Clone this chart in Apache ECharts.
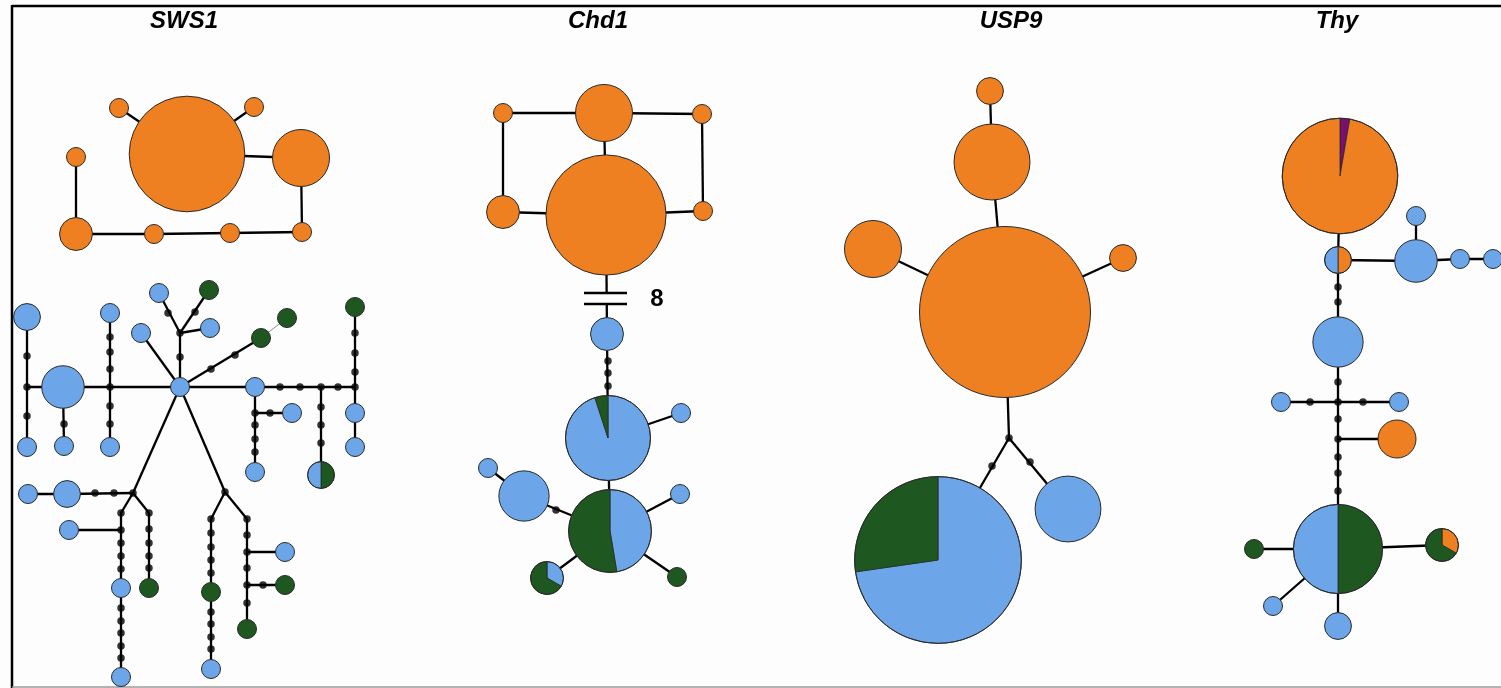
<!DOCTYPE html>
<html>
<head>
<meta charset="utf-8">
<script src="https://cdn.jsdelivr.net/npm/echarts@6/dist/echarts.min.js"></script>
<style>
  html, body { margin: 0; padding: 0; background: #fdfdfd; }
  #main { width: 1501px; height: 688px; }
</style>
</head>
<body>
<div id="main"></div>
<script>
// panel titles
const panelTitles = ['SWS1', 'Chd1', 'USP9', 'Thy'];
const titleX = [184, 598, 1011, 1337];

// haplotypes: id, x, y, blue, green, orange, purple (sample counts)
const sws1Haps = [
  ['S1', 187, 154, 0, 0, 37, 0], ['S2', 301, 158, 0, 0, 9, 0],
  ['S3', 119, 108, 0, 0, 1, 0], ['S4', 254, 107, 0, 0, 1, 0],
  ['S5', 76, 157, 0, 0, 1, 0], ['S6', 76, 234, 0, 0, 3, 0],
  ['S7', 154, 234, 0, 0, 1, 0], ['S8', 230, 233, 0, 0, 1, 0],
  ['S9', 302, 232, 0, 0, 1, 0],
  ['H', 180, 387, 1, 0, 0, 0], ['B1', 63, 387, 5, 0, 0, 0],
  ['B2', 27, 317, 2, 0, 0, 0], ['B3', 27, 447, 1, 0, 0, 0],
  ['B4', 64, 446, 1, 0, 0, 0], ['B5', 110, 313, 1, 0, 0, 0],
  ['B6', 110, 447, 1, 0, 0, 0], ['B7', 141, 333, 1, 0, 0, 0],
  ['B8', 159, 293, 1, 0, 0, 0], ['G1', 209, 290, 0, 1, 0, 0],
  ['B9', 210, 328, 1, 0, 0, 0], ['G2', 261, 338, 0, 1, 0, 0],
  ['G3', 287, 318, 0, 1, 0, 0], ['B10', 255, 387, 1, 0, 0, 0],
  ['B11', 292, 413, 1, 0, 0, 0], ['B12', 255, 472, 1, 0, 0, 0],
  ['M1', 321, 475, 1, 1, 0, 0], ['G4', 355, 307, 0, 1, 0, 0],
  ['B13', 355, 413, 1, 0, 0, 0], ['B14', 355, 447, 1, 0, 0, 0],
  ['B15', 67, 494, 2, 0, 0, 0], ['B16', 28, 494, 1, 0, 0, 0],
  ['B17', 69, 530, 1, 0, 0, 0], ['B18', 121, 588, 1, 0, 0, 0],
  ['B19', 121, 677, 1, 0, 0, 0], ['G5', 149, 588, 0, 1, 0, 0],
  ['G6', 211, 592, 0, 1, 0, 0], ['B20', 211, 669, 1, 0, 0, 0],
  ['B21', 285, 552, 1, 0, 0, 0], ['G7', 285, 585, 0, 1, 0, 0],
  ['G8', 247, 629, 0, 1, 0, 0]
];
// median vectors / bends
const sws1Verts = [
  ['v1', 27, 387], ['v2', 110, 387], ['v3', 180, 333], ['v4', 321, 387],
  ['v5', 355, 387], ['v6', 255, 413], ['v7', 133, 493], ['v8', 121, 530],
  ['v9', 225, 492], ['v10', 247, 552], ['v11', 247, 585], ['v12', 121, 513],
  ['v13', 149, 513], ['v14', 211, 519], ['v15', 247, 519]
];
// mutation steps
const sws1Dots = [
  [27, 356], [27, 416], [64, 424],
  [110, 337], [110, 352], [110, 369], [110, 406], [110, 424],
  [180, 357], [168, 313], [195, 312], [211, 369], [235, 355],
  [280, 387], [300, 387], [338, 387],
  [270, 413], [255, 425], [255, 439], [255, 452],
  [321, 407], [321, 425], [321, 443],
  [355, 372], [355, 353], [355, 333],
  [114, 493], [95, 493],
  [121, 543], [121, 556], [121, 569], [121, 608], [121, 621], [121, 633], [121, 646], [121, 658],
  [149, 529], [149, 543], [149, 556], [149, 568],
  [211, 533], [211, 547], [211, 560], [211, 573], [211, 612], [211, 624], [211, 637], [211, 649],
  [247, 535], [247, 568], [263, 585], [247, 603]
];
const sws1Links = [
  ['S1', 'S3'], ['S1', 'S4'], ['S1', 'S2'], ['S2', 'S9'], ['S9', 'S8'], ['S8', 'S7'], ['S7', 'S6'], ['S6', 'S5'],
  ['B2', 'v1'], ['v1', 'B3'], ['v1', 'B1'], ['B1', 'B4'], ['B1', 'v2'], ['v2', 'B5'], ['v2', 'B6'], ['v2', 'H'],
  ['H', 'B7'], ['H', 'v3'], ['v3', 'B8'], ['v3', 'G1'], ['v3', 'B9'], ['H', 'G2'], ['G2', 'G3', 'thin'],
  ['H', 'B10'], ['B10', 'v4'], ['v4', 'v5'], ['v4', 'M1'], ['v5', 'G4'], ['v5', 'B13'], ['B13', 'B14'],
  ['B10', 'v6'], ['v6', 'B11'], ['v6', 'B12'],
  ['H', 'v7'], ['v7', 'B15'], ['B15', 'B16'], ['v7', 'v12'], ['v12', 'v8'], ['v8', 'B17'], ['v8', 'B18'], ['B18', 'B19'],
  ['v7', 'v13'], ['v13', 'G5'],
  ['H', 'v9'], ['v9', 'v14'], ['v14', 'G6'], ['G6', 'B20'], ['v9', 'v15'], ['v15', 'v10'], ['v10', 'B21'],
  ['v10', 'v11'], ['v11', 'G7'], ['v11', 'G8']
];
const sws1Order = ['green', 'blue', 'orange', 'purple'];

const chd1Haps = [
  ['C1', 604, 113, 0, 0, 9, 0], ['C2', 606, 215, 0, 0, 40, 0],
  ['C3', 503, 113, 0, 0, 1, 0], ['C4', 702, 114, 0, 0, 1, 0],
  ['C5', 503, 212, 0, 0, 3, 0], ['C6', 703, 211, 0, 0, 1, 0],
  ['C7', 607, 334, 3, 0, 0, 0], ['C8', 608, 438, 19, 1, 0, 0],
  ['C9', 681, 413, 1, 0, 0, 0], ['C10', 610, 531, 9, 10, 0, 0],
  ['C11', 524, 496, 7, 0, 0, 0], ['C12', 488, 468, 1, 0, 0, 0],
  ['C13', 680, 494, 1, 0, 0, 0], ['C14', 677, 577, 0, 1, 0, 0],
  ['C15', 547, 578, 1, 2, 0, 0]
];
const chd1Verts = [];
const chd1Dots = [[608, 361], [608, 373], [608, 386], [556, 510]];
const chd1Links = [
  ['C3', 'C1'], ['C1', 'C4'], ['C3', 'C5'], ['C4', 'C6'], ['C5', 'C2'], ['C2', 'C6'], ['C1', 'C2'],
  ['C2', 'C7'], ['C7', 'C8'], ['C8', 'C9'], ['C8', 'C10'], ['C10', 'C11'], ['C11', 'C12'],
  ['C10', 'C13'], ['C10', 'C14'], ['C10', 'C15']
];
const chd1Order = ['blue', 'green', 'orange', 'purple'];
// broken edge: x, y, number of steps
const chd1Break = [[606, 298.5, '8']];

const usp9Haps = [
  ['U1', 990, 91, 0, 0, 2, 0], ['U2', 992, 162, 0, 0, 16, 0],
  ['U3', 873, 249, 0, 0, 9, 0], ['U4', 1123, 258, 0, 0, 2, 0],
  ['U5', 1005, 312, 0, 0, 81, 0], ['U6', 938, 560, 56, 21, 0, 0],
  ['U7', 1068, 509, 12, 0, 0, 0]
];
const usp9Verts = [['u1', 1009, 438]];
const usp9Dots = [[992, 466], [1030, 462]];
const usp9Links = [
  ['U1', 'U2'], ['U2', 'U5'], ['U3', 'U5'], ['U5', 'U4'], ['U5', 'u1'], ['u1', 'U6'], ['u1', 'U7']
];
const usp9Order = ['blue', 'green', 'orange', 'purple'];

const thyHaps = [
  ['T1', 1340, 176, 0, 0, 36, 1], ['T2', 1338, 260, 1, 0, 1, 0],
  ['T3', 1416, 261, 5, 0, 0, 0], ['T4', 1416, 216, 1, 0, 0, 0],
  ['T5', 1460, 259, 1, 0, 0, 0], ['T6', 1493, 259, 1, 0, 0, 0],
  ['T7', 1338, 342, 7, 0, 0, 0], ['T8', 1281, 402, 1, 0, 0, 0],
  ['T9', 1399, 402, 1, 0, 0, 0], ['T10', 1397, 439, 0, 0, 4, 0],
  ['T11', 1338, 549, 11, 11, 0, 0], ['T12', 1254, 549, 0, 1, 0, 0],
  ['T13', 1442, 545, 0, 2, 1, 0], ['T14', 1273, 606, 1, 0, 0, 0],
  ['T15', 1338, 626, 2, 0, 0, 0]
];
const thyVerts = [['t1', 1338, 402], ['t2', 1338, 439]];
const thyDots = [
  [1338, 287], [1338, 302], [1338, 382], [1310, 402], [1363, 402],
  [1338, 419], [1338, 457], [1338, 473], [1338, 491]
];
const thyLinks = [
  ['T1', 'T2'], ['T2', 'T3'], ['T3', 'T4'], ['T3', 'T5'], ['T5', 'T6'], ['T2', 'T7'], ['T7', 't1'],
  ['t1', 'T8'], ['t1', 'T9'], ['t1', 't2'], ['t2', 'T10'], ['t2', 'T11'],
  ['T11', 'T12'], ['T11', 'T13'], ['T11', 'T14'], ['T11', 'T15']
];
const thyOrder = ['purple', 'orange', 'green', 'blue'];

const colorOf = { blue: '#6ca6e8', green: '#1e5720', orange: '#ee8022', purple: '#7b0e6f' };
const baseR = 9.5; // radius of a single-sample haplotype

const panels = [
  { haps: sws1Haps, verts: sws1Verts, dots: sws1Dots, links: sws1Links, order: sws1Order },
  { haps: chd1Haps, verts: chd1Verts, dots: chd1Dots, links: chd1Links, order: chd1Order },
  { haps: usp9Haps, verts: usp9Verts, dots: usp9Dots, links: usp9Links, order: usp9Order },
  { haps: thyHaps, verts: thyVerts, dots: thyDots, links: thyLinks, order: thyOrder }
];

const hapParts = [], hapData = [], dotData = [], linkData = [];
panels.forEach(p => {
  const pos = {};
  p.haps.forEach(h => {
    pos[h[0]] = [h[1], h[2]];
    const counts = { blue: h[3], green: h[4], orange: h[5], purple: h[6] };
    hapParts.push(p.order.filter(k => counts[k] > 0).map(k => [k, counts[k]]));
    hapData.push([h[1], h[2]]);
  });
  p.verts.forEach(v => {
    pos[v[0]] = [v[1], v[2]];
    dotData.push([v[1], v[2]]);
  });
  p.dots.forEach(d => dotData.push(d));
  p.links.forEach(l => {
    const item = { coords: [pos[l[0]], pos[l[1]]] };
    if (l[2] === 'thin') item.lineStyle = { color: '#8a8a8a', width: 1 };
    linkData.push(item);
  });
});

function renderHap(params, api) {
  const parts = hapParts[params.dataIndex];
  const c = api.coord([api.value(0), api.value(1)]);
  const total = parts.reduce((s, p) => s + p[1], 0);
  const r = baseR * Math.sqrt(total);
  const edge = { stroke: '#2a2a2a', lineWidth: 1 };
  if (parts.length === 1) {
    return { type: 'circle', shape: { cx: c[0], cy: c[1], r: r },
      style: Object.assign({ fill: colorOf[parts[0][0]] }, edge) };
  }
  const children = [];
  let acc = 0;
  parts.forEach(p => {
    const a0 = -Math.PI / 2 + acc / total * Math.PI * 2;
    acc += p[1];
    const a1 = -Math.PI / 2 + acc / total * Math.PI * 2;
    children.push({ type: 'sector',
      shape: { cx: c[0], cy: c[1], r0: 0, r: r, startAngle: a0, endAngle: a1, clockwise: true },
      style: { fill: colorOf[p[0]], stroke: '#2a2a2a', lineWidth: 0.8 } });
  });
  children.push({ type: 'circle', shape: { cx: c[0], cy: c[1], r: r },
    style: Object.assign({ fill: 'none' }, edge) });
  return { type: 'group', children: children };
}

function renderBreak(params, api) {
  const c = api.coord([api.value(0), api.value(1)]);
  const label = chd1Break[params.dataIndex][2];
  return { type: 'group', children: [
    { type: 'rect', shape: { x: c[0] - 4, y: c[1] - 5, width: 8, height: 10 }, style: { fill: '#fdfdfd' } },
    { type: 'line', shape: { x1: c[0] - 22, y1: c[1] - 5.5, x2: c[0] + 21, y2: c[1] - 5.5 }, style: { stroke: '#000', lineWidth: 2.6 } },
    { type: 'line', shape: { x1: c[0] - 22, y1: c[1] + 5.5, x2: c[0] + 21, y2: c[1] + 5.5 }, style: { stroke: '#000', lineWidth: 2.6 } },
    { type: 'text', x: c[0] + 51, y: c[1] + 1,
      style: { text: label, fill: '#000', font: 'bold 24px "Liberation Sans", Arial, sans-serif',
        align: 'center', verticalAlign: 'middle' } }
  ] };
}

const myChart = echarts.init(document.getElementById('main'));
const options = {
  backgroundColor: '#fdfdfd',
  animation: false,
  grid: { left: 0, right: 0, top: 0, bottom: 0 },
  xAxis: { type: 'value', min: 0, max: 1501, show: false },
  yAxis: { type: 'value', min: 0, max: 688, inverse: true, show: false },
  graphic: [
    { type: 'line', shape: { x1: 12, y1: 6, x2: 1501, y2: 6 }, style: { stroke: '#000', lineWidth: 2.5 } },
    { type: 'line', shape: { x1: 12, y1: 5, x2: 12, y2: 688 }, style: { stroke: '#000', lineWidth: 2.5 } },
    { type: 'line', shape: { x1: 12, y1: 687, x2: 1501, y2: 687 }, style: { stroke: '#9a9a9a', lineWidth: 1.5 } }
  ].concat(panelTitles.map((t, i) => ({
    type: 'text', x: titleX[i], y: 21,
    style: { text: t, fill: '#000', font: 'italic bold 24px "Liberation Sans", Arial, sans-serif',
      align: 'center', verticalAlign: 'middle' }
  }))),
  series: [
    {
      type: 'lines', coordinateSystem: 'cartesian2d', z: 1, silent: true,
      lineStyle: { color: '#000', width: 2.3, opacity: 1 },
      data: linkData
    },
    {
      type: 'custom', coordinateSystem: 'cartesian2d', z: 2, silent: true,
      renderItem: renderHap, data: hapData
    },
    {
      type: 'scatter', z: 3, silent: true, symbolSize: 7.5,
      itemStyle: { color: '#000' }, data: dotData
    },
    {
      type: 'custom', coordinateSystem: 'cartesian2d', z: 4, silent: true,
      renderItem: renderBreak, data: chd1Break.map(b => [b[0], b[1]])
    }
  ]
};
myChart.setOption(options);
</script>
</body>
</html>
